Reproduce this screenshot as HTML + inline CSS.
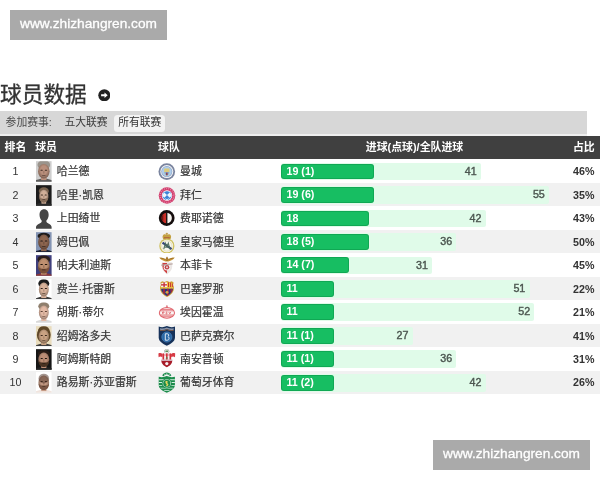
<!DOCTYPE html>
<html lang="zh-CN">
<head>
<meta charset="utf-8">
<title>球员数据</title>
<style>
html,body{margin:0;padding:0;}
body{width:600px;height:480px;overflow:hidden;background:#fff;position:relative;font-family:"Liberation Sans","Noto Sans CJK SC",sans-serif;color:#333;}
.wm{position:absolute;width:157px;height:30px;background:#aaa;color:#fff;font-family:"Liberation Sans",sans-serif;font-size:13.7px;line-height:27px;-webkit-text-stroke:0.3px #fff;text-align:center;letter-spacing:0;}
.title{position:absolute;left:0;top:79px;font-size:21.7px;line-height:32px;color:#333;white-space:nowrap;-webkit-text-stroke:0.3px #333;}
.arrow{position:absolute;left:97.8px;top:88.6px;width:12.6px;height:12.6px;}
.filter{position:absolute;left:0;top:111.3px;width:587.2px;height:22.3px;border-bottom:2px solid #eee;background:#d7d7d7;font-size:10.8px;line-height:22.3px;color:#4a4a4a;white-space:nowrap;}
.filter span{position:absolute;top:0;}
.filter .pill{top:3.4px;height:17.3px;line-height:15.5px;background:#f3f3f3;border-radius:3.5px;width:50.9px;text-align:center;color:#333;}
.thead{position:absolute;left:0;top:135.6px;width:600px;height:23.8px;background:#404040;color:#fff;font-weight:bold;font-size:10.9px;line-height:23.6px;white-space:nowrap;}
.thead span{position:absolute;top:0;}
.row{position:absolute;left:0;width:600px;height:23.46px;font-size:10.7px;line-height:23.46px;white-space:nowrap;}
.row.alt{background:#f1f1f1;}
.row>*{position:absolute;top:0;}
.rk{top:0.9px;left:0;width:31px;text-align:center;color:#333;}
.av{left:36px;top:1.9px;width:15.6px;height:20.8px;}
.nm{top:0.9px;left:56.8px;color:#333;font-size:10.9px;-webkit-text-stroke:0.2px #333;}
.lg{left:157.8px;top:0;width:18px;height:23.46px;}
.tm{top:0.9px;left:180px;color:#333;font-size:10.9px;-webkit-text-stroke:0.2px #333;}
.tot{left:281.2px;top:3.3px;height:17.8px;background:#e0fbe9;border-radius:3px 2px 2px 3px;line-height:16.4px;text-align:right;color:#4c5650;}
.tot i{font-style:normal;padding-right:4.3px;-webkit-text-stroke:0.4px #4c5650;}
.gl{left:281.2px;top:4.2px;height:15.8px;background:#17be62;box-shadow:inset 0 0 0 1px rgba(0,110,50,0.28);border-radius:3px;line-height:14.4px;color:#fff;font-weight:bold;}
.gl i{font-style:normal;padding-left:5.3px;}
.pc{top:0.9px;right:5.5px;font-weight:bold;color:#333;}
</style>
</head>
<body>
<div class="wm" style="left:10px;top:10px;">www.zhizhangren.com</div>
<div class="title">球员数据</div>
<svg class="arrow" viewBox="0 0 13 13"><circle cx="6.5" cy="6.5" r="6.2" fill="#222"/><path d="M3.2 5.5H6.7V3.6L10 6.5L6.7 9.4V7.5H3.2Z" fill="#fff"/></svg>
<div class="filter"><span style="left:5.6px">参加赛事:</span><span style="left:64.4px;color:#3c3c3c">五大联赛</span><span class="pill" style="left:114.4px">所有联赛</span></div>
<div class="thead"><span style="left:4.6px">排名</span><span style="left:35.2px">球员</span><span style="left:158px">球队</span><span style="left:280px;width:269px;text-align:center;font-size:10.9px">进球(点球)/全队进球</span><span style="right:5.3px">占比</span></div>
<div class="row" style="top:159.40px"><span class="rk">1</span><svg class="av" viewBox="0 0 16 21"><defs><filter id="b0" x="-10%" y="-10%" width="120%" height="120%"><feGaussianBlur stdDeviation="0.45"/></filter><clipPath id="c0"><rect width="16" height="21"/></clipPath><radialGradient id="g0" cx="0.5" cy="0.42" r="0.62"><stop offset="0.45" stop-color="#000" stop-opacity="0"/><stop offset="1" stop-color="#000" stop-opacity="0.38"/></radialGradient></defs><rect width="16" height="21" fill="#cfcfcf"/><g clip-path="url(#c0)"><g filter="url(#b0)" transform="translate(8 10.2) scale(1.25) translate(-8 -10.5)"><path d="M-1 22V19.2C1.5 17.6 4.5 17.2 6 16.6H10C11.5 17.2 14.5 17.6 17 19.2V22Z" fill="#5c5c5c"/><rect x="5.8" y="13.5" width="4.4" height="4.4" fill="#b98f7b"/><ellipse cx="8" cy="5.5" rx="5.2" ry="4.0" fill="#9a948c"/><ellipse cx="8" cy="10.6" rx="4.7" ry="6" fill="#b98f7b"/><ellipse cx="8" cy="10.6" rx="4.7" ry="6" fill="url(#g0)"/><rect x="5.2" y="9.3" width="2" height="0.9" rx="0.4" fill="#3a2a22"/><rect x="8.8" y="9.3" width="2" height="0.9" rx="0.4" fill="#3a2a22"/><rect x="6.6" y="13.7" width="2.8" height="0.7" rx="0.3" fill="#3a2a22" opacity="0.7"/><rect x="7.5" y="10.4" width="1" height="2.2" rx="0.5" fill="#3a2a22" opacity="0.25"/></g></g></svg><span class="nm">哈兰德</span><svg class="lg" viewBox="0 0 18 23.46"><defs><filter id="l0" x="-10%" y="-10%" width="120%" height="120%"><feGaussianBlur stdDeviation="0.4"/></filter></defs><g filter="url(#l0)"><circle cx="8.8" cy="12.6" r="8.3" fill="#7a849e"/><circle cx="8.8" cy="12.6" r="6.500" fill="#f3f4f7"/><circle cx="8.8" cy="12.6" r="5.5" fill="#8fa6c8"/><circle cx="8.8" cy="12.6" r="4.9" fill="#aecdeb"/><path d="M6.2 9.6H11.4V12.6C11.4 14.8 10.2 16.2 8.8 16.9C7.4 16.2 6.2 14.8 6.2 12.6Z" fill="#dccb7c"/><path d="M6.3 13H11.3C11.1 14.9 10.1 16 8.8 16.7C7.5 16 6.500 14.900 6.300 13Z" fill="#86abd8"/><rect x="8.1" y="13.600" width="1.500" height="2.600" fill="#8d3c4c"/></g></svg><span class="tm">曼城</span><div class="tot" style="width:199.7px"><i>41</i></div><div class="gl" style="width:92.4px"><i>19 (1)</i></div><span class="pc">46%</span></div>
<div class="row alt" style="top:182.86px"><span class="rk">2</span><svg class="av" viewBox="0 0 16 21"><defs><filter id="b1" x="-10%" y="-10%" width="120%" height="120%"><feGaussianBlur stdDeviation="0.45"/></filter><clipPath id="c1"><rect width="16" height="21"/></clipPath><radialGradient id="g1" cx="0.5" cy="0.42" r="0.62"><stop offset="0.45" stop-color="#000" stop-opacity="0"/><stop offset="1" stop-color="#000" stop-opacity="0.38"/></radialGradient></defs><rect width="16" height="21" fill="#1c1c1c"/><g clip-path="url(#c1)"><g filter="url(#b1)" transform="translate(8 11) scale(1.08) translate(-8 -10.5)"><path d="M-1 22V19.2C1.5 17.6 4.5 17.2 6 16.6H10C11.5 17.2 14.5 17.6 17 19.2V22Z" fill="#2a2a2a"/><rect x="5.8" y="13.5" width="4.4" height="4.4" fill="#cfae98"/><ellipse cx="8" cy="5.9" rx="4.8" ry="3.5" fill="#7a6450"/><ellipse cx="8" cy="10.6" rx="4.3" ry="6" fill="#cfae98"/><ellipse cx="8" cy="10.6" rx="4.3" ry="6" fill="url(#g1)"/><path d="M3.7 11.2C3.7 15.8 6 17 8 17S12.3 15.8 12.3 11.2C11.3 13.4 10 13.2 8 13.2S4.7 13.4 3.7 11.2Z" fill="#8a705c"/><rect x="5.2" y="9.3" width="2" height="0.9" rx="0.4" fill="#3a2a22"/><rect x="8.8" y="9.3" width="2" height="0.9" rx="0.4" fill="#3a2a22"/><rect x="6.6" y="13.7" width="2.8" height="0.7" rx="0.3" fill="#3a2a22" opacity="0.7"/><rect x="7.5" y="10.4" width="1" height="2.2" rx="0.5" fill="#3a2a22" opacity="0.25"/></g></g></svg><span class="nm">哈里·凯恩</span><svg class="lg" viewBox="0 0 18 23.46"><defs><filter id="l1" x="-10%" y="-10%" width="120%" height="120%"><feGaussianBlur stdDeviation="0.4"/></filter></defs><g filter="url(#l1)"><defs><clipPath id="by"><circle cx="9" cy="12.5" r="4.5"/></clipPath></defs><circle cx="9" cy="12.5" r="8.3" fill="#d23c6c"/><circle cx="9" cy="12.5" r="6.900" fill="none" stroke="#f6d6e0" stroke-width="1.300" stroke-dasharray="0.900 1.200" opacity="0.550"/><circle cx="9" cy="12.5" r="5.2" fill="#ffffff"/><circle cx="9" cy="12.5" r="4.5" fill="#3c84d8"/><g clip-path="url(#by)" fill="#ffffff"><path d="M3.600 12.100L6.300 9.400L9 12.100L6.300 14.800ZM9 12.100L11.700 9.400L14.400 12.100L11.700 14.800ZM6.300 9.400L9 6.700L11.700 9.400L9 7.900ZM6.300 14.800L9 17.500L11.700 14.800L9 16.300Z" opacity="0.920"/></g></g></svg><span class="tm">拜仁</span><div class="tot" style="width:267.9px"><i>55</i></div><div class="gl" style="width:92.4px"><i>19 (6)</i></div><span class="pc">35%</span></div>
<div class="row" style="top:206.32px"><span class="rk">3</span><svg class="av" viewBox="0 0 16 21"><defs><filter id="b2" x="-10%" y="-10%" width="120%" height="120%"><feGaussianBlur stdDeviation="0.3"/></filter></defs><rect width="16" height="21" fill="#fff"/><path filter="url(#b2)" d="M8.3 1C5.300 1 3.600 3.400 3.600 6.800C3.600 9.400 4.500 11.400 5.800 12.600C6 13.600 5.800 14.400 5 15C3.400 15.900 0.800 16.600 0 19V21H16V19C15.500 16.600 13 15.900 11.500 15C10.700 14.400 10.500 13.600 10.700 12.600C12 11.400 13 9.400 13 6.800C13 3.400 11.300 1 8.300 1Z" fill="#454545"/></svg><span class="nm">上田绮世</span><svg class="lg" viewBox="0 0 18 23.46"><defs><filter id="l2" x="-10%" y="-10%" width="120%" height="120%"><feGaussianBlur stdDeviation="0.4"/></filter></defs><g filter="url(#l2)"><circle cx="8.7" cy="12" r="7.9" fill="#120e0e"/><path d="M8.7 6.800A5.200 5.200 0 0 0 8.700 17.200Z" fill="#c92e28"/><path d="M8.7 6.800A5.200 5.200 0 0 1 8.700 17.200Z" fill="#f7f3ef"/><rect x="8.1" y="6.200" width="1.300" height="11.600" fill="#120e0e"/><path d="M5.300 8.300C4.200 9.400 3.700 10.600 3.700 12S4.200 14.600 5.300 15.700Z" fill="#5a1512" opacity="0.800"/></g></svg><span class="tm">费耶诺德</span><div class="tot" style="width:204.5px"><i>42</i></div><div class="gl" style="width:87.4px"><i>18</i></div><span class="pc">43%</span></div>
<div class="row alt" style="top:229.78px"><span class="rk">4</span><svg class="av" viewBox="0 0 16 21"><defs><filter id="b3" x="-10%" y="-10%" width="120%" height="120%"><feGaussianBlur stdDeviation="0.45"/></filter><clipPath id="c3"><rect width="16" height="21"/></clipPath><radialGradient id="g3" cx="0.5" cy="0.42" r="0.62"><stop offset="0.45" stop-color="#000" stop-opacity="0"/><stop offset="1" stop-color="#000" stop-opacity="0.38"/></radialGradient></defs><rect width="16" height="21" fill="#8595b4"/><g clip-path="url(#c3)"><g filter="url(#b3)" transform="translate(8 10) scale(1.28) translate(-8 -10.5)"><path d="M-1 22V19.2C1.5 17.6 4.5 17.2 6 16.6H10C11.5 17.2 14.5 17.6 17 19.2V22Z" fill="#1d2238"/><rect x="5.8" y="13.5" width="4.4" height="4.4" fill="#8e6650"/><ellipse cx="8" cy="5.8" rx="5.0" ry="2.6" fill="#1e1a1a"/><ellipse cx="8" cy="10.6" rx="4.5" ry="6" fill="#8e6650"/><ellipse cx="8" cy="10.6" rx="4.5" ry="6" fill="url(#g3)"/><rect x="5.2" y="9.3" width="2" height="0.9" rx="0.4" fill="#1a1210"/><rect x="8.8" y="9.3" width="2" height="0.9" rx="0.4" fill="#1a1210"/><rect x="6.6" y="13.7" width="2.8" height="0.7" rx="0.3" fill="#1a1210" opacity="0.7"/><rect x="7.5" y="10.4" width="1" height="2.2" rx="0.5" fill="#1a1210" opacity="0.25"/></g></g></svg><span class="nm">姆巴佩</span><svg class="lg" viewBox="0 0 18 23.46"><defs><filter id="l3" x="-10%" y="-10%" width="120%" height="120%"><feGaussianBlur stdDeviation="0.4"/></filter></defs><g filter="url(#l3)"><path d="M5.300 9.300C4.300 7.600 4.300 5.800 5.400 4.800C6.400 4 7.600 4.200 8.850 5.200C10.100 4.200 11.300 4 12.300 4.800C13.400 5.800 13.400 7.600 12.400 9.300Z" fill="#c4a040"/><rect x="8.350" y="2.800" width="1" height="2.600" fill="#b8923a"/><rect x="7.650" y="3.400" width="2.400" height="0.900" fill="#b8923a"/><path d="M6 7.200H11.700V8.400H6Z" fill="#a4423c" opacity="0.700"/><circle cx="8.850" cy="16" r="7.600" fill="#cfc060"/><circle cx="8.850" cy="16" r="6.300" fill="#f6f6ec"/><circle cx="8.850" cy="16" r="5.200" fill="none" stroke="#ddd0a0" stroke-width="0.600"/><path d="M3.900 13.400L5.200 11.800L14.200 18.300L12.900 20Z" fill="#35457e"/><path d="M5.800 19.200L7.400 13.200L8.850 16.400L10.300 13.200L11.900 19.200M6.600 17.200H11.100" stroke="#4a6a58" stroke-width="1.200" fill="none" opacity="0.900"/></g></svg><span class="tm">皇家马德里</span><div class="tot" style="width:175.3px"><i>36</i></div><div class="gl" style="width:87.4px"><i>18 (5)</i></div><span class="pc">50%</span></div>
<div class="row" style="top:253.24px"><span class="rk">5</span><svg class="av" viewBox="0 0 16 21"><defs><filter id="b4" x="-10%" y="-10%" width="120%" height="120%"><feGaussianBlur stdDeviation="0.45"/></filter><clipPath id="c4"><rect width="16" height="21"/></clipPath><radialGradient id="g4" cx="0.5" cy="0.42" r="0.62"><stop offset="0.45" stop-color="#000" stop-opacity="0"/><stop offset="1" stop-color="#000" stop-opacity="0.38"/></radialGradient></defs><rect width="16" height="21" fill="#3f3f7c"/><g clip-path="url(#c4)"><g filter="url(#b4)" transform="translate(8 10.5) scale(1.28) translate(-8 -10.5)"><path d="M-1 22V19.2C1.5 17.6 4.5 17.2 6 16.6H10C11.5 17.2 14.5 17.6 17 19.2V22Z" fill="#8c3838"/><rect x="5.8" y="13.5" width="4.4" height="4.4" fill="#bf9070"/><ellipse cx="8" cy="5.7" rx="5.1" ry="3.3" fill="#2a1e1c"/><ellipse cx="8" cy="10.6" rx="4.6" ry="6" fill="#bf9070"/><ellipse cx="8" cy="10.6" rx="4.6" ry="6" fill="url(#g4)"/><path d="M3.4000000000000004 11.2C3.4000000000000004 15.8 6 17 8 17S12.6 15.8 12.6 11.2C11.6 13.4 10 13.2 8 13.2S4.4 13.4 3.4000000000000004 11.2Z" fill="#7a5038"/><rect x="5.2" y="9.3" width="2" height="0.9" rx="0.4" fill="#20140f"/><rect x="8.8" y="9.3" width="2" height="0.9" rx="0.4" fill="#20140f"/><rect x="6.6" y="13.7" width="2.8" height="0.7" rx="0.3" fill="#20140f" opacity="0.7"/><rect x="7.5" y="10.4" width="1" height="2.2" rx="0.5" fill="#20140f" opacity="0.25"/></g></g></svg><span class="nm">帕夫利迪斯</span><svg class="lg" viewBox="0 0 18 23.46"><defs><filter id="l4" x="-10%" y="-10%" width="120%" height="120%"><feGaussianBlur stdDeviation="0.4"/></filter></defs><g filter="url(#l4)"><path d="M1.200 4.600C4 4.300 6.600 5.200 9 7C11.400 5.200 14 4.300 16.800 4.600C15.400 6.600 13 8 10.600 8.500H7.400C5 8 2.600 6.600 1.200 4.600Z" fill="#c8963a"/><path d="M2.600 5.200C4.600 5.300 6.800 6 9 7.700C11.200 6 13.400 5.300 15.400 5.200" stroke="#8a5e22" stroke-width="0.600" fill="none"/><path d="M7.700 5.200L9 3.600L10.400 5.400L9.700 7.200H8.300Z" fill="#a8782c"/><path d="M3.800 9.200H14.200V13.600C14.200 17 11.600 19.600 9 21.400C6.400 19.600 3.800 17 3.800 13.600Z" fill="#ebe6e4"/><path d="M4.500 9.900H9V20.400C6.700 18.800 4.500 16.400 4.500 13.600Z" fill="#cf3a3c"/><circle cx="9" cy="14.200" r="3.300" fill="#f5f1ef"/><circle cx="9" cy="14.200" r="2.300" fill="#c04048"/><circle cx="9" cy="14.200" r="1" fill="#e8d8d6"/><path d="M3.300 11.600L14.700 10.200V11.500L3.300 12.900Z" fill="#b4a09c" opacity="0.850"/></g></svg><span class="tm">本菲卡</span><div class="tot" style="width:151.0px"><i>31</i></div><div class="gl" style="width:67.7px"><i>14 (7)</i></div><span class="pc">45%</span></div>
<div class="row alt" style="top:276.70px"><span class="rk">6</span><svg class="av" viewBox="0 0 16 21"><defs><filter id="b5" x="-10%" y="-10%" width="120%" height="120%"><feGaussianBlur stdDeviation="0.45"/></filter><clipPath id="c5"><rect width="16" height="21"/></clipPath><radialGradient id="g5" cx="0.5" cy="0.42" r="0.62"><stop offset="0.45" stop-color="#000" stop-opacity="0"/><stop offset="1" stop-color="#000" stop-opacity="0.38"/></radialGradient></defs><rect width="16" height="21" fill="#ffffff"/><g clip-path="url(#c5)"><g filter="url(#b5)" transform="translate(8 10.5) scale(1.2) translate(-8 -10.5)"><path d="M-1 22V19.2C1.5 17.6 4.5 17.2 6 16.6H10C11.5 17.2 14.5 17.6 17 19.2V22Z" fill="#3a3a3a"/><rect x="5.8" y="13.5" width="4.4" height="4.4" fill="#d8b29a"/><ellipse cx="8" cy="5.5" rx="4.7" ry="3.7" fill="#1c1a1a"/><ellipse cx="8" cy="10.6" rx="4.2" ry="6" fill="#d8b29a"/><ellipse cx="8" cy="10.6" rx="4.2" ry="6" fill="url(#g5)"/><rect x="5.2" y="9.3" width="2" height="0.9" rx="0.4" fill="#2a1c16"/><rect x="8.8" y="9.3" width="2" height="0.9" rx="0.4" fill="#2a1c16"/><rect x="6.6" y="13.7" width="2.8" height="0.7" rx="0.3" fill="#2a1c16" opacity="0.7"/><rect x="7.5" y="10.4" width="1" height="2.2" rx="0.5" fill="#2a1c16" opacity="0.25"/></g></g></svg><span class="nm">费兰·托雷斯</span><svg class="lg" viewBox="0 0 18 23.46"><defs><filter id="l5" x="-10%" y="-10%" width="120%" height="120%"><feGaussianBlur stdDeviation="0.4"/></filter></defs><g filter="url(#l5)"><path d="M2.400 5.400L4.200 4.200L6.500 5L9 4L11.500 5L13.800 4.200L15.600 5.400L15.100 8C16.100 9.600 16.200 12 15.400 14C14.200 16.900 11.600 18.600 9 20C6.400 18.600 3.800 16.900 2.600 14C1.800 12 1.900 9.600 2.900 8Z" fill="#cf9f34"/><path d="M3.300 5.900L9 5.200V10.200H3C3 9.400 3.200 8.600 3.600 7.900Z" fill="#f6f2ee"/><rect x="5.400" y="5.400" width="1.400" height="4.800" fill="#c62f38"/><rect x="3.100" y="7.200" width="5.900" height="1.300" fill="#c62f38"/><path d="M9 5.200L14.700 5.900L14.400 7.900C14.800 8.600 15 9.400 15 10.200H9Z" fill="#f3c63c"/><rect x="10" y="5.400" width="1.050" height="4.800" fill="#c62f38"/><rect x="12.100" y="5.600" width="1.050" height="4.600" fill="#c62f38"/><rect x="14" y="6.400" width="0.800" height="3.800" fill="#c62f38"/><rect x="3" y="10.200" width="12" height="1.600" fill="#eac648"/><path d="M3.100 11.800H14.900C14.900 12.600 14.700 13.400 14.300 14.100C13.200 16.500 11.200 17.800 9 18.900C6.800 17.800 4.800 16.500 3.700 14.100C3.300 13.400 3.100 12.600 3.100 11.800Z" fill="#28397e"/><path d="M5.100 11.800H6.900V17.700C6.200 17.200 5.600 16.700 5.100 16.100Z" fill="#a3263c"/><path d="M9 11.800H10.800V18C10.200 18.300 9.600 18.600 9 18.900Z" fill="#a3263c"/><path d="M12.600 11.800H14.300V14.100C13.900 14.900 13.300 15.600 12.600 16.300Z" fill="#a3263c"/><circle cx="9" cy="15.300" r="1.400" fill="#d6ac46"/></g></svg><span class="tm">巴塞罗那</span><div class="tot" style="width:248.4px"><i>51</i></div><div class="gl" style="width:52.8px"><i>11</i></div><span class="pc">22%</span></div>
<div class="row" style="top:300.16px"><span class="rk">7</span><svg class="av" viewBox="0 0 16 21"><defs><filter id="b6" x="-10%" y="-10%" width="120%" height="120%"><feGaussianBlur stdDeviation="0.45"/></filter><clipPath id="c6"><rect width="16" height="21"/></clipPath><radialGradient id="g6" cx="0.5" cy="0.42" r="0.62"><stop offset="0.45" stop-color="#000" stop-opacity="0"/><stop offset="1" stop-color="#000" stop-opacity="0.38"/></radialGradient></defs><rect width="16" height="21" fill="#ffffff"/><g clip-path="url(#c6)"><g filter="url(#b6)" transform="translate(8 10.5) scale(1.2) translate(-8 -10.5)"><path d="M-1 22V19.2C1.5 17.6 4.5 17.2 6 16.6H10C11.5 17.2 14.5 17.6 17 19.2V22Z" fill="#d8d8d8"/><rect x="5.8" y="13.5" width="4.4" height="4.4" fill="#e2b9a4"/><ellipse cx="8" cy="5.3" rx="4.7" ry="3.5" fill="#8f7f6d"/><ellipse cx="8" cy="10.6" rx="4.2" ry="6" fill="#e2b9a4"/><ellipse cx="8" cy="10.6" rx="4.2" ry="6" fill="url(#g6)"/><rect x="5.2" y="9.3" width="2" height="0.9" rx="0.4" fill="#5a4034"/><rect x="8.8" y="9.3" width="2" height="0.9" rx="0.4" fill="#5a4034"/><rect x="6.6" y="13.7" width="2.8" height="0.7" rx="0.3" fill="#5a4034" opacity="0.7"/><rect x="7.5" y="10.4" width="1" height="2.2" rx="0.5" fill="#5a4034" opacity="0.25"/></g></g></svg><span class="nm">胡斯·蒂尔</span><svg class="lg" viewBox="0 0 18 23.46"><defs><filter id="l6" x="-10%" y="-10%" width="120%" height="120%"><feGaussianBlur stdDeviation="0.4"/></filter></defs><g filter="url(#l6)"><path d="M7.800 7.400C7.900 6 8.400 5.200 8.900 5.100C9.400 5.200 9.900 6 10 7.400Z" fill="#e38c90"/><ellipse cx="8.900" cy="12.900" rx="8.100" ry="5.800" fill="#e0646c"/><ellipse cx="8.900" cy="12.900" rx="7.100" ry="4.800" fill="#f6d9da"/><path d="M2.600 9.600H15.200M2 11.000H15.800M2 14.800H15.800M2.600 16.200H15.200" stroke="#e0646c" stroke-width="0.800"/><rect x="2.300" y="11.500" width="13.200" height="2.800" fill="#fbf6f5"/><path d="M4.600 13.800V12H5.600C6.400 12 6.400 13 5.600 13H4.600M9.400 12.200C8.400 11.800 7.600 12.300 8.200 12.800C8.800 13.200 9.600 13.300 9 13.800C8.500 14 7.900 13.900 7.600 13.700M10.800 12L11.800 13.800L12.800 12" stroke="#d8464e" stroke-width="0.700" fill="none"/></g></svg><span class="tm">埃因霍温</span><div class="tot" style="width:253.2px"><i>52</i></div><div class="gl" style="width:52.8px"><i>11</i></div><span class="pc">21%</span></div>
<div class="row alt" style="top:323.62px"><span class="rk">8</span><svg class="av" viewBox="0 0 16 21"><defs><filter id="b7" x="-10%" y="-10%" width="120%" height="120%"><feGaussianBlur stdDeviation="0.45"/></filter><clipPath id="c7"><rect width="16" height="21"/></clipPath><radialGradient id="g7" cx="0.5" cy="0.42" r="0.62"><stop offset="0.45" stop-color="#000" stop-opacity="0"/><stop offset="1" stop-color="#000" stop-opacity="0.38"/></radialGradient></defs><rect width="16" height="21" fill="#e9dcbc"/><g clip-path="url(#c7)"><g filter="url(#b7)" transform="translate(8 10.5) scale(1.2) translate(-8 -10.5)"><path d="M-1 22V19.2C1.5 17.6 4.5 17.2 6 16.6H10C11.5 17.2 14.5 17.6 17 19.2V22Z" fill="#3c3c3c"/><rect x="5.8" y="13.5" width="4.4" height="4.4" fill="#c9a282"/><ellipse cx="8" cy="9.3" rx="5.9" ry="7" fill="#5e4628"/><ellipse cx="8" cy="5.7" rx="4.9" ry="4.1" fill="#5e4628"/><ellipse cx="8" cy="10.6" rx="4.4" ry="6" fill="#c9a282"/><ellipse cx="8" cy="10.6" rx="4.4" ry="6" fill="url(#g7)"/><rect x="5.2" y="9.3" width="2" height="0.9" rx="0.4" fill="#3a281a"/><rect x="8.8" y="9.3" width="2" height="0.9" rx="0.4" fill="#3a281a"/><rect x="6.6" y="13.7" width="2.8" height="0.7" rx="0.3" fill="#3a281a" opacity="0.7"/><rect x="7.5" y="10.4" width="1" height="2.2" rx="0.5" fill="#3a281a" opacity="0.25"/></g></g></svg><span class="nm">绍姆洛多夫</span><svg class="lg" viewBox="0 0 18 23.46"><defs><filter id="l7" x="-10%" y="-10%" width="120%" height="120%"><feGaussianBlur stdDeviation="0.4"/></filter></defs><g filter="url(#l7)"><path d="M0.700 2.600C3.400 3.500 6.200 3.300 8.850 2.100C11.500 3.300 14.300 3.500 17 2.600V13.400C17 17.200 13 19.800 8.850 21.700C4.700 19.800 0.700 17.200 0.700 13.400Z" fill="#15325a"/><path d="M2 4.200C4.300 4.800 6.600 4.500 8.850 3.600C11.100 4.500 13.400 4.800 15.700 4.200V5.700C13.400 6.300 11.100 6 8.850 5.100C6.600 6 4.300 6.300 2 5.700Z" fill="#8d96aa"/><path d="M2 5.900C4.300 6.500 6.600 6.200 8.850 5.300C11.100 6.200 13.400 6.500 15.700 5.900V6.700C13.400 7.300 11.100 7 8.850 6.100C6.600 7 4.300 7.300 2 6.700Z" fill="#c9773a" opacity="0.700"/><circle cx="8.850" cy="13" r="5.100" fill="#2b68a6"/><circle cx="8.850" cy="13" r="5.100" fill="none" stroke="#4f8cc8" stroke-width="0.600"/><path d="M7.300 9.800H9.400C10.900 9.800 11.200 12.100 9.800 12.700C11.700 13.200 11.400 16.200 9.400 16.200H7.300Z" fill="none" stroke="#dfe9f4" stroke-width="1"/></g></svg><span class="tm">巴萨克赛尔</span><div class="tot" style="width:131.5px"><i>27</i></div><div class="gl" style="width:52.8px"><i>11 (1)</i></div><span class="pc">41%</span></div>
<div class="row" style="top:347.08px"><span class="rk">9</span><svg class="av" viewBox="0 0 16 21"><defs><filter id="b8" x="-10%" y="-10%" width="120%" height="120%"><feGaussianBlur stdDeviation="0.45"/></filter><clipPath id="c8"><rect width="16" height="21"/></clipPath><radialGradient id="g8" cx="0.5" cy="0.42" r="0.62"><stop offset="0.45" stop-color="#000" stop-opacity="0"/><stop offset="1" stop-color="#000" stop-opacity="0.38"/></radialGradient></defs><rect width="16" height="21" fill="#161616"/><g clip-path="url(#c8)"><g filter="url(#b8)" transform="translate(8 10.5) scale(1.2) translate(-8 -10.5)"><path d="M-1 22V19.2C1.5 17.6 4.5 17.2 6 16.6H10C11.5 17.2 14.5 17.6 17 19.2V22Z" fill="#222222"/><rect x="5.8" y="13.5" width="4.4" height="4.4" fill="#bd8e76"/><ellipse cx="8" cy="5.8" rx="5.1" ry="3.2" fill="#2a1e18"/><ellipse cx="8" cy="10.6" rx="4.6" ry="6" fill="#bd8e76"/><ellipse cx="8" cy="10.6" rx="4.6" ry="6" fill="url(#g8)"/><path d="M3.4000000000000004 11.2C3.4000000000000004 15.8 6 17 8 17S12.6 15.8 12.6 11.2C11.6 13.4 10 13.2 8 13.2S4.4 13.4 3.4000000000000004 11.2Z" fill="#4a3224"/><rect x="5.2" y="9.3" width="2" height="0.9" rx="0.4" fill="#1e120c"/><rect x="8.8" y="9.3" width="2" height="0.9" rx="0.4" fill="#1e120c"/><rect x="6.6" y="13.7" width="2.8" height="0.7" rx="0.3" fill="#1e120c" opacity="0.7"/><rect x="7.5" y="10.4" width="1" height="2.2" rx="0.5" fill="#1e120c" opacity="0.25"/></g></g></svg><span class="nm">阿姆斯特朗</span><svg class="lg" viewBox="0 0 18 23.46"><defs><filter id="l8" x="-10%" y="-10%" width="120%" height="120%"><feGaussianBlur stdDeviation="0.4"/></filter></defs><g filter="url(#l8)"><circle cx="8.800" cy="4.400" r="2.500" fill="#8a8f8a"/><circle cx="8.800" cy="4.400" r="2.100" fill="#f3f5f0"/><path d="M7.400 3.500H10.200V5.100H7.400Z" fill="#5f8f5a"/><path d="M3.400 6.400H14.200V13.800C14.200 17 11.600 18.900 8.800 20.200C6 18.900 3.400 17 3.400 13.800Z" fill="#f5efef"/><rect x="4.500" y="6.400" width="1.600" height="6.600" fill="#d62e38"/><rect x="8" y="6.400" width="1.600" height="6.600" fill="#d62e38"/><rect x="11.500" y="6.400" width="1.600" height="6.600" fill="#d62e38"/><path d="M0.400 6.600C1.800 5.800 3.400 6 4.600 7.200L4.400 10.200C3.200 9.400 1.800 9.400 0.600 10.200Z" fill="#d63a44"/><path d="M17.200 6.600C15.800 5.800 14.200 6 13 7.200L13.200 10.200C14.400 9.400 15.800 9.400 17 10.200Z" fill="#d63a44"/><path d="M4.400 7.400H13.200V8.600H4.400Z" fill="#d63a44" opacity="0.550"/><path d="M7.600 11.600L8.800 9.400L10 11.600Z" fill="#4f8f52"/><path d="M3.400 12.800H14.200V13.800C14.200 17 11.600 18.900 8.800 20.200C6 18.900 3.400 17 3.400 13.800Z" fill="#a81f2b"/><path d="M3.400 12.600H14.200V13.700H3.400Z" fill="#e6eef6"/><circle cx="8.800" cy="16.600" r="1.600" fill="#f7f1f1"/></g></svg><span class="tm">南安普顿</span><div class="tot" style="width:175.3px"><i>36</i></div><div class="gl" style="width:52.8px"><i>11 (1)</i></div><span class="pc">31%</span></div>
<div class="row alt" style="top:370.54px"><span class="rk">10</span><svg class="av" viewBox="0 0 16 21"><defs><filter id="b9" x="-10%" y="-10%" width="120%" height="120%"><feGaussianBlur stdDeviation="0.45"/></filter><clipPath id="c9"><rect width="16" height="21"/></clipPath><radialGradient id="g9" cx="0.5" cy="0.42" r="0.62"><stop offset="0.45" stop-color="#000" stop-opacity="0"/><stop offset="1" stop-color="#000" stop-opacity="0.38"/></radialGradient></defs><rect width="16" height="21" fill="#ffffff"/><g clip-path="url(#c9)"><g filter="url(#b9)" transform="translate(8 10.5) scale(1.2) translate(-8 -10.5)"><path d="M-1 22V19.2C1.5 17.6 4.5 17.2 6 16.6H10C11.5 17.2 14.5 17.6 17 19.2V22Z" fill="#f0e4de"/><rect x="5.8" y="13.5" width="4.4" height="4.4" fill="#c49a84"/><ellipse cx="8" cy="10.6" rx="4.5" ry="6" fill="#c49a84"/><ellipse cx="8" cy="10.6" rx="4.5" ry="6" fill="url(#g9)"/><ellipse cx="8" cy="7.2" rx="4.5" ry="4.2" fill="#5a4034" opacity="0.55"/><path d="M3.5 11.2C3.5 15.8 6 17 8 17S12.5 15.8 12.5 11.2C11.5 13.4 10 13.2 8 13.2S4.5 13.4 3.5 11.2Z" fill="#7a5644"/><rect x="5.2" y="9.3" width="2" height="0.9" rx="0.4" fill="#3a261c"/><rect x="8.8" y="9.3" width="2" height="0.9" rx="0.4" fill="#3a261c"/><rect x="6.6" y="13.7" width="2.8" height="0.7" rx="0.3" fill="#3a261c" opacity="0.7"/><rect x="7.5" y="10.4" width="1" height="2.2" rx="0.5" fill="#3a261c" opacity="0.25"/></g></g></svg><span class="nm">路易斯·苏亚雷斯</span><svg class="lg" viewBox="0 0 18 23.46"><defs><filter id="l9" x="-10%" y="-10%" width="120%" height="120%"><feGaussianBlur stdDeviation="0.4"/></filter></defs><g filter="url(#l9)"><path d="M4.200 4.400C5.400 2.400 7.100 1.500 8.800 1.500C10.500 1.500 12.200 2.400 13.400 4.400L12 5.300C11.200 3.900 10 3.200 8.800 3.200C7.600 3.200 6.400 3.900 5.600 5.300Z" fill="#1f8c4e"/><path d="M6 3.700L6.700 3.200M8.400 2.600H9.200M10.900 3.200L11.600 3.700" stroke="#e9f6ee" stroke-width="0.700"/><path d="M0.700 5.800C3.400 6.500 6.100 6.300 8.800 5.100C11.500 6.300 14.200 6.500 16.900 5.800V14C16.900 17.600 13 20 8.800 21.800C4.600 20 0.700 17.600 0.700 14Z" fill="#1b8c4c"/><path d="M0.700 8.300H16.900V9.200H0.700ZM0.700 11.100H16.900V12H0.700ZM0.700 13.900H16.900V14.800H0.900ZM2 16.700H15.600L14.600 17.600H3ZM5.400 19.200H12.200L10.800 20H6.800Z" fill="#d9efe2"/><circle cx="8.800" cy="12.400" r="5" fill="#1b8c4c"/><circle cx="8.800" cy="12.400" r="4.200" fill="#d9efe2"/><circle cx="8.800" cy="12.400" r="3.600" fill="#1b8c4c"/><path d="M7.600 9.800L9.800 10.200L9.300 12.100L10.500 13.500L9.400 15.200H7.900L8.700 13.500L7.400 12.100Z" fill="#e4d25c"/></g></svg><span class="tm">葡萄牙体育</span><div class="tot" style="width:204.5px"><i>42</i></div><div class="gl" style="width:52.8px"><i>11 (2)</i></div><span class="pc">26%</span></div>
<div class="wm" style="left:433px;top:440px;">www.zhizhangren.com</div>
</body>
</html>
